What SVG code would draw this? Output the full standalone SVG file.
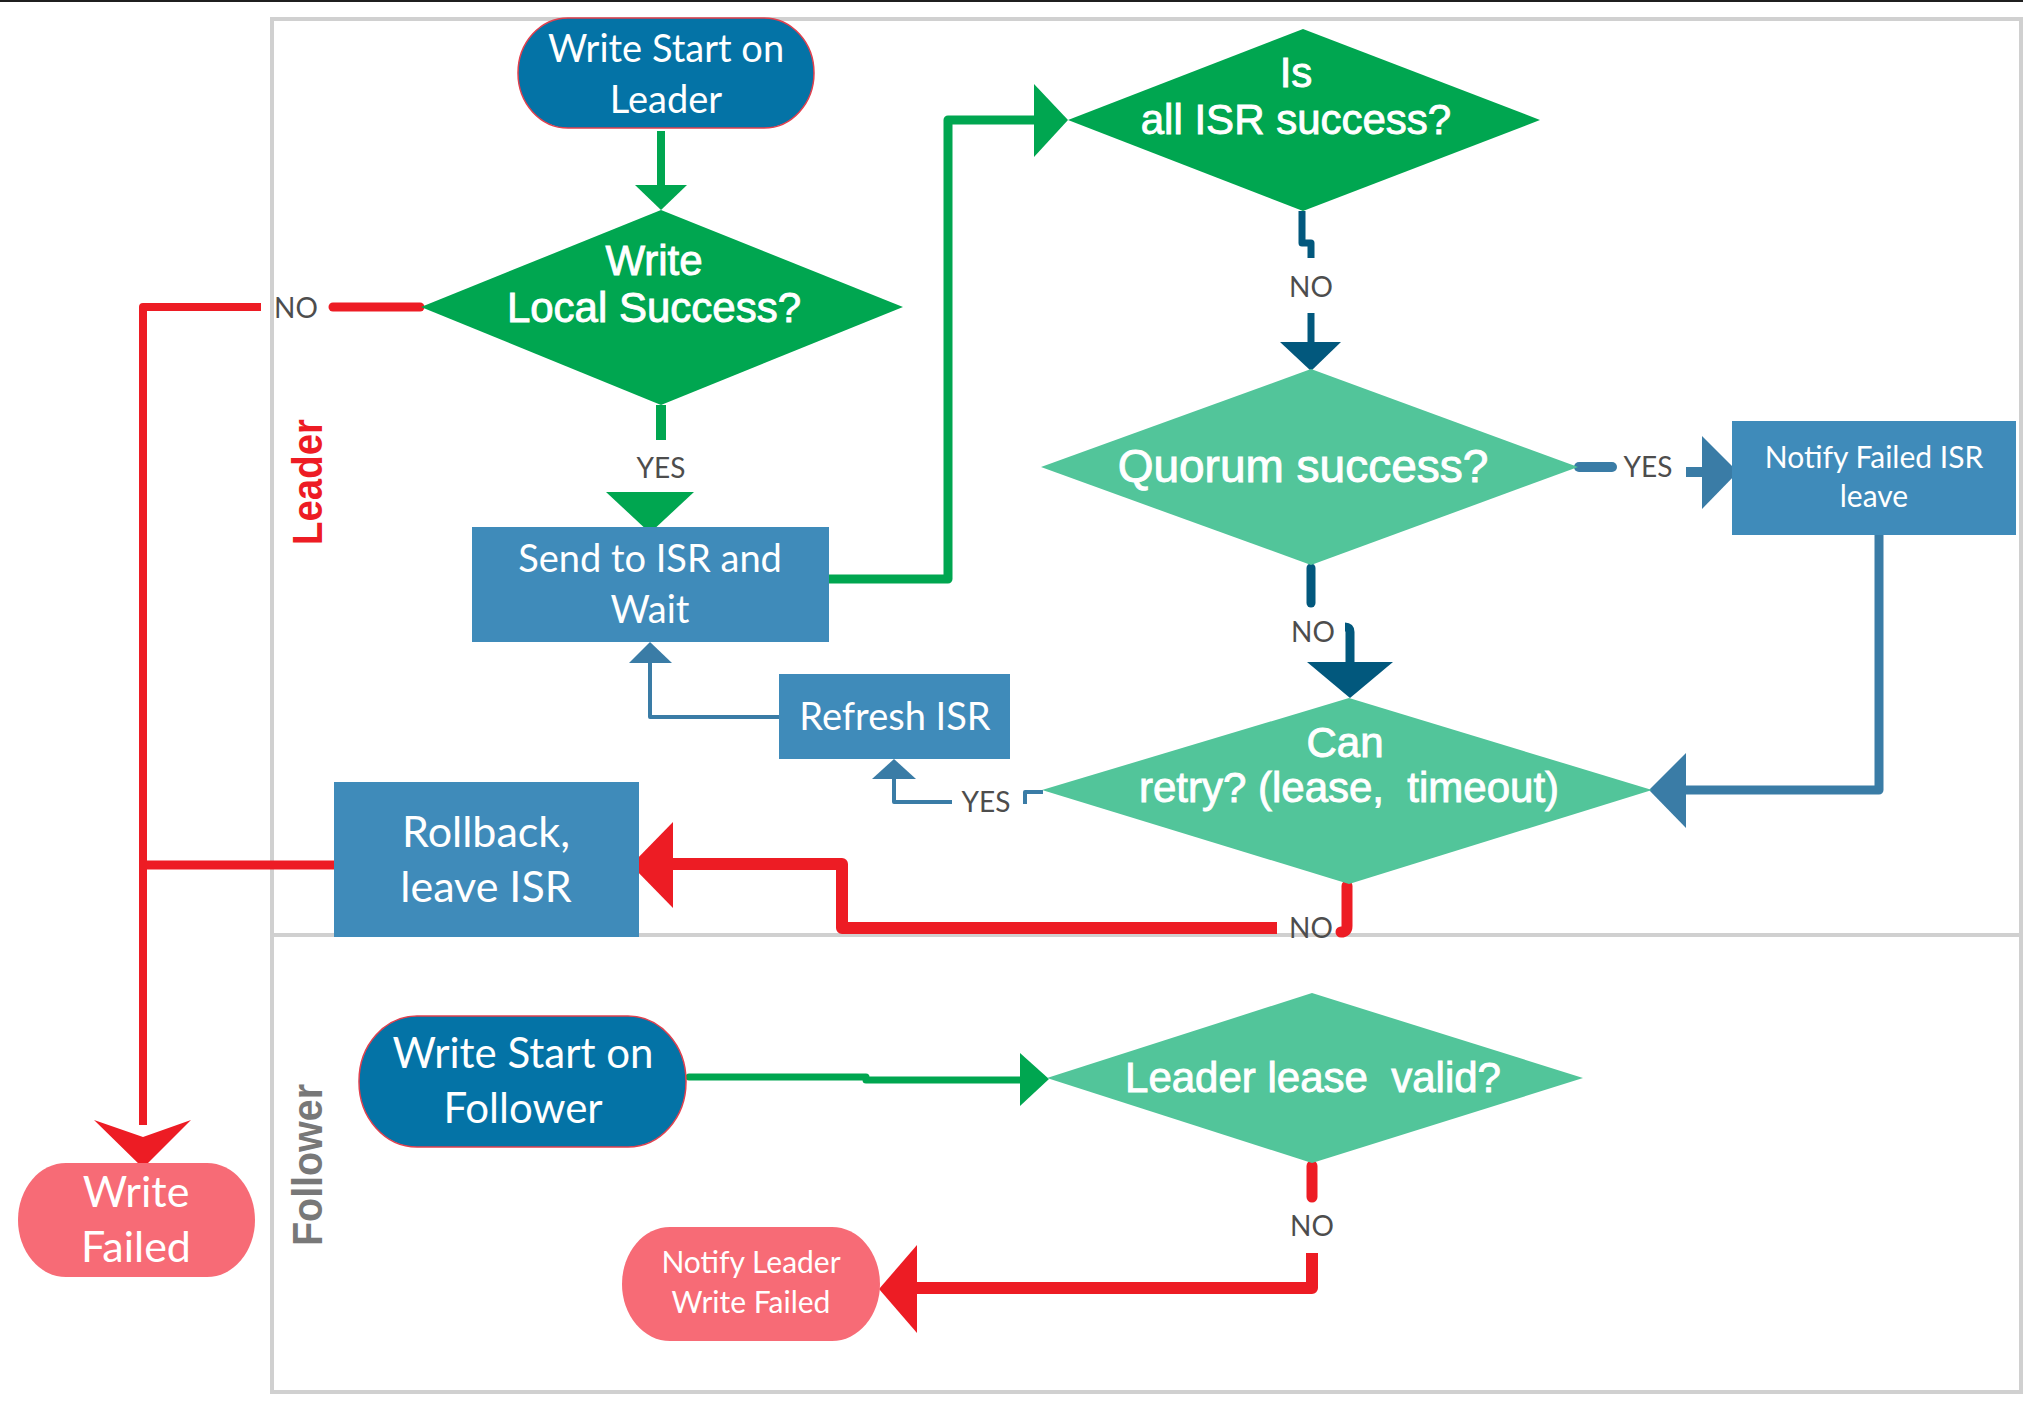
<svg xmlns="http://www.w3.org/2000/svg" width="2023" height="1404" viewBox="0 0 2023 1404">
  <defs>
    <style>
      .lane { fill: none; stroke: #d0d0d0; stroke-width: 4; }
      .start { fill: #0473a6; stroke: #e0404e; stroke-width: 1.5; }
      .term { fill: #f76b76; }
      .proc { fill: #3f8bba; }
      .dec { fill: #00a650; }
      .dec2 { fill: #52c59a; }
      .t-lato { font-family: Lato, "Open Sans", sans-serif; fill: #ffffff; text-anchor: middle; }
      .t-arial { font-family: "Liberation Sans", Arial, sans-serif; fill: #ffffff; stroke: #ffffff; stroke-width: 0.9; text-anchor: middle; white-space: pre; }
      .lbl { font-family: Lato, "Open Sans", sans-serif; font-size: 28px; fill: #4d4d4d; text-anchor: middle; }
      .lane-t { font-family: "Liberation Sans", Arial, sans-serif; font-weight: bold; text-anchor: middle; }
      .c { fill: none; stroke-linejoin: round; }
      .green { stroke: #00a650; }
      .red { stroke: #ed1c24; }
      .navy { stroke: #02587d; }
      .steel { stroke: #3a7ca6; }
      .ah-green { fill: #00a650; }
      .ah-red { fill: #ed1c24; }
      .ah-navy { fill: #02587d; }
      .ah-steel { fill: #3a7ca6; }
    </style>
  </defs>

  <rect width="2023" height="1404" fill="#ffffff"/>
  <!-- top rule -->
  <rect x="0" y="0" width="2023" height="2" fill="#1f1f1f"/>

  <!-- swimlanes -->
  <g id="lanes">
    <rect class="lane" x="272" y="19" width="1749" height="1373"/>
    <line class="lane" x1="272" y1="935" x2="2021" y2="935"/>
    <text class="lane-t" transform="translate(322,482) rotate(-90)" font-size="43" fill="#ed1c24" textLength="126" lengthAdjust="spacingAndGlyphs">Leader</text>
    <text class="lane-t" transform="translate(322,1165) rotate(-90)" font-size="42" fill="#787878" textLength="162" lengthAdjust="spacingAndGlyphs">Follower</text>
  </g>

  <!-- connectors -->
  <g id="connectors">
    <!-- start -> write local -->
    <path class="c green" stroke-width="8" d="M661,131 V190"/>
    <polygon class="ah-green" points="635,185 687,185 661,210"/>

    <!-- write local -> send (YES) -->
    <path class="c green" stroke-width="10" d="M661,405 V440"/>
    <polygon class="ah-green" points="606,492 694,492 650,533"/>

    <!-- send -> is all ISR -->
    <path class="c green" stroke-width="9" stroke-linecap="round" d="M829,579 H948 V120 H1040"/>
    <polygon class="ah-green" points="1034,84 1034,157 1068,120"/>

    <!-- is all ISR -> quorum (NO) -->
    <path class="c navy" stroke-width="7" d="M1302,211 V243 H1311 V258"/>
    <path class="c navy" stroke-width="7" d="M1311,313 V345"/>
    <polygon class="ah-navy" points="1280,342 1341,342 1311,371"/>

    <!-- quorum -> notify failed ISR (YES) -->
    <path class="c steel" stroke-width="10" stroke-linecap="round" d="M1579,467 H1612"/>
    <path class="c steel" stroke-width="10" d="M1686,472 H1706"/>
    <polygon class="ah-steel" points="1702,436 1702,509 1738,472"/>

    <!-- quorum -> can retry (NO) -->
    <path class="c navy" stroke-width="9" stroke-linecap="round" d="M1311,568 V603"/>
    <path class="c navy" stroke-width="9" d="M1345,627 Q1350,627 1350,632 V665"/>
    <polygon class="ah-navy" points="1307,662 1393,662 1350,698"/>

    <!-- notify failed ISR -> can retry -->
    <path class="c steel" stroke-width="9" stroke-linecap="round" d="M1879,535 V790 H1682"/>
    <polygon class="ah-steel" points="1686,753 1686,828 1649,790"/>

    <!-- can retry -> refresh ISR (YES) -->
    <path class="c steel" stroke-width="4" d="M1043,792 H1025 V804"/>
    <path class="c steel" stroke-width="4" d="M952,802 H894 V776"/>
    <polygon class="ah-steel" points="872,779 916,779 894,759"/>

    <!-- refresh ISR -> send -->
    <path class="c steel" stroke-width="4" d="M779,717 H650 V660"/>
    <polygon class="ah-steel" points="629,663 672,663 650,642"/>

    <!-- write local -> write failed (NO) -->
    <path class="c red" stroke-width="9" stroke-linecap="round" d="M420,307 H333"/>
    <path class="c red" stroke-width="8" d="M261,307 H143 V1125"/>
    <polygon class="ah-red" points="94,1120 143,1137 191,1120 143,1168"/>

    <!-- rollback -> write failed -->
    <path class="c red" stroke-width="9" d="M334,865 H143"/>

    <!-- can retry -> rollback (NO) -->
    <path class="c red" stroke-width="11" stroke-linecap="round" d="M1347,886 V926 Q1347,932 1341,932"/>
    <path class="c red" stroke-width="12" d="M1277,928 H842 V864 H670"/>
    <polygon class="ah-red" points="673,822 673,908 631,865"/>

    <!-- leader lease -> notify leader (NO) -->
    <path class="c red" stroke-width="11" stroke-linecap="round" d="M1312,1166 V1197"/>
    <path class="c red" stroke-width="12" d="M1312,1253 V1288 H912"/>
    <polygon class="ah-red" points="917,1245 917,1333 879,1289"/>

    <!-- follower start -> leader lease -->
    <path class="c green" stroke-width="7" stroke-linecap="round" d="M689,1077 H866 V1080 H1024"/>
    <polygon class="ah-green" points="1020,1053 1020,1106 1049,1079"/>

    <!-- branch labels -->
    <text class="lbl" x="296" y="318">NO</text>
    <text class="lbl" x="661" y="478">YES</text>
    <text class="lbl" x="1311" y="297">NO</text>
    <text class="lbl" x="1648" y="477">YES</text>
    <text class="lbl" x="1313" y="642">NO</text>
    <text class="lbl" x="986" y="812">YES</text>
    <text class="lbl" x="1311" y="938">NO</text>
    <text class="lbl" x="1312" y="1236">NO</text>
  </g>

  <!-- nodes -->
  <g id="write-start-leader">
    <rect class="start" x="518" y="18" width="296" height="110" rx="50" ry="55"/>
    <text class="t-lato" font-size="38" x="666" y="62">Write Start on</text>
    <text class="t-lato" font-size="38" x="666" y="113">Leader</text>
  </g>

  <g id="write-local-success">
    <polygon class="dec" points="661,210 903,307 661,405 421,307"/>
    <text class="t-arial" font-size="42" x="654" y="275">Write</text>
    <text class="t-arial" font-size="42" x="654" y="322">Local Success?</text>
  </g>

  <g id="send-to-isr">
    <rect class="proc" x="472" y="527" width="357" height="115"/>
    <text class="t-lato" font-size="38" x="650" y="572">Send to ISR and</text>
    <text class="t-lato" font-size="38" x="650" y="623">Wait</text>
  </g>

  <g id="all-isr-success">
    <polygon class="dec" points="1303,29 1540,120 1303,211 1068,120"/>
    <text class="t-arial" font-size="42" x="1296" y="87">Is</text>
    <text class="t-arial" font-size="42" x="1296" y="134">all ISR success?</text>
  </g>

  <g id="quorum-success">
    <polygon class="dec2" points="1311,369 1578,467 1311,565 1041,467"/>
    <text class="t-arial" font-size="46" x="1303" y="482">Quorum success?</text>
  </g>

  <g id="notify-failed-isr">
    <rect class="proc" x="1732" y="421" width="284" height="114"/>
    <text class="t-lato" font-size="30" x="1874" y="468">Notify Failed ISR</text>
    <text class="t-lato" font-size="30" x="1874" y="507">leave</text>
  </g>

  <g id="can-retry">
    <polygon class="dec2" points="1349,698 1652,790 1349,884 1042,790"/>
    <text class="t-arial" font-size="42" x="1345" y="757">Can</text>
    <text class="t-arial" font-size="42" x="1349" y="802">retry? (lease,  timeout)</text>
  </g>

  <g id="refresh-isr">
    <rect class="proc" x="779" y="674" width="231" height="85"/>
    <text class="t-lato" font-size="38" x="895" y="730">Refresh ISR</text>
  </g>

  <g id="rollback">
    <rect class="proc" x="334" y="782" width="305" height="155"/>
    <text class="t-lato" font-size="43" x="486" y="847">Rollback,</text>
    <text class="t-lato" font-size="43" x="486" y="902">leave ISR</text>
  </g>

  <g id="write-failed">
    <rect class="term" x="18" y="1163" width="237" height="114" rx="48" ry="57"/>
    <text class="t-lato" font-size="43" x="136" y="1207">Write</text>
    <text class="t-lato" font-size="43" x="136" y="1262">Failed</text>
  </g>

  <g id="write-start-follower">
    <rect class="start" x="359" y="1016" width="327" height="131" rx="58" ry="65"/>
    <text class="t-lato" font-size="42" x="523" y="1068">Write Start on</text>
    <text class="t-lato" font-size="42" x="523" y="1123">Follower</text>
  </g>

  <g id="leader-lease-valid">
    <polygon class="dec2" points="1312,993 1583,1078 1312,1163 1047,1078"/>
    <text class="t-arial" font-size="42" x="1313" y="1092">Leader lease  valid?</text>
  </g>

  <g id="notify-leader-failed">
    <rect class="term" x="622" y="1227" width="258" height="114" rx="48" ry="57"/>
    <text class="t-lato" font-size="30" x="751" y="1273">Notify Leader</text>
    <text class="t-lato" font-size="30" x="751" y="1313">Write Failed</text>
  </g>
</svg>
